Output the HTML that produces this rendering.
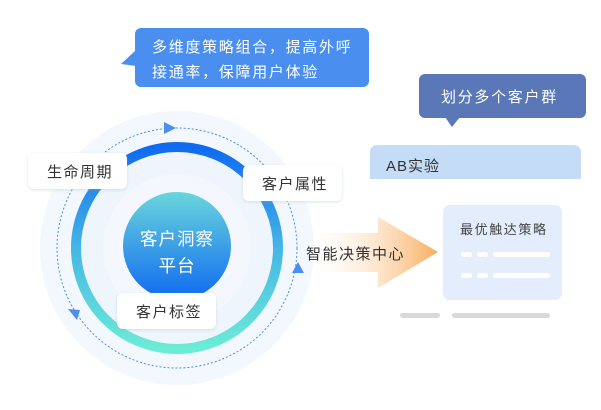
<!DOCTYPE html>
<html><head><meta charset="utf-8"><style>
body{margin:0;width:601px;height:410px;background:#fff;overflow:hidden;font-family:"Liberation Sans","Noto Sans CJK SC",sans-serif}
</style></head><body>
<svg width="601" height="410" viewBox="0 0 601 410" xmlns="http://www.w3.org/2000/svg" style="position:absolute;left:0;top:0">
<defs>
<linearGradient id="ring" x1="0" y1="0" x2="0" y2="1"><stop offset="0" stop-color="#0f6af0"/><stop offset="0.5" stop-color="#45b6e6"/><stop offset="1" stop-color="#6cecd6"/></linearGradient>
<linearGradient id="core" x1="0" y1="0" x2="0" y2="1"><stop offset="0" stop-color="#6ad6dc"/><stop offset="1" stop-color="#0f6af0"/></linearGradient>
<linearGradient id="arr" x1="0" y1="0" x2="1" y2="0"><stop offset="0" stop-color="#fff" stop-opacity="0"/><stop offset="1" stop-color="#f9ad5e"/></linearGradient>
<filter id="sh" x="-20%" y="-20%" width="140%" height="140%"><feDropShadow dx="0" dy="1" stdDeviation="1.5" flood-color="#9ab" flood-opacity="0.35"/></filter>
</defs>
<circle cx="177" cy="248" r="137" fill="#f3f8fe"/>
<circle cx="177" cy="248" r="120" fill="none" stroke="#4a8ff0" stroke-width="1" stroke-dasharray="2 2"/>
<circle cx="177" cy="248" r="97" fill="#eff5fd"/>
<circle cx="177" cy="248" r="101" fill="none" stroke="url(#ring)" stroke-width="10"/>
<circle cx="177" cy="248" r="74" fill="#f4f8fe"/>
<circle cx="177" cy="246" r="54" fill="url(#core)"/>
<text x="140" y="245" font-size="17.5" letter-spacing="1" fill="#fff">客户洞察</text>
<text x="177" y="272" text-anchor="middle" font-size="17.5" letter-spacing="1" fill="#fff">平台</text>
<polygon points="164,122 176,128 164,134" fill="#4a8ff0"/>
<polygon points="292,273 298,262 304,273" fill="#4a8ff0"/>
<polygon points="68,309 80,310 77,320" fill="#4a8ff0"/>
<path d="M300 233 H378 V217 L438 252 L378 288 V272 H300 Z" fill="url(#arr)"/>
<text x="306" y="259" font-size="15" letter-spacing="1.5" fill="#333">智能决策中心</text>
<rect x="28" y="153" width="99" height="36" rx="6" fill="#fff" filter="url(#sh)"/>
<text x="47" y="177" font-size="15" letter-spacing="1.5" fill="#333">生命周期</text>
<rect x="243" y="165" width="99" height="36" rx="6" fill="#fff" filter="url(#sh)"/>
<text x="262" y="189" font-size="15" letter-spacing="1.5" fill="#333">客户属性</text>
<rect x="117" y="293" width="99" height="36" rx="6" fill="#fff" filter="url(#sh)"/>
<text x="136" y="317" font-size="15" letter-spacing="1.5" fill="#333">客户标签</text>
<rect x="135" y="28" width="234" height="59" rx="6" fill="#4a8ff0"/>
<polygon points="136,50 121,64 136,66" fill="#4a8ff0"/>
<text x="152" y="52" font-size="15" letter-spacing="1.7" fill="#fff">多维度策略组合，提高外呼</text>
<text x="152" y="77" font-size="15" letter-spacing="1.7" fill="#fff">接通率，保障用户体验</text>
<rect x="419" y="74" width="167" height="44" rx="6" fill="#5a78b8"/>
<polygon points="445,117 460,117 452,127" fill="#5a78b8"/>
<text x="441" y="102" font-size="15" letter-spacing="1.7" fill="#fff">划分多个客户群</text>
<path d="M370 179 V152 a7 7 0 0 1 7 -7 H574 a7 7 0 0 1 7 7 V179 Z" fill="#c4dcf6"/>
<text x="386" y="171" font-size="15" letter-spacing="1" fill="#333">AB实验</text>
<rect x="443" y="205" width="119" height="95" rx="7" fill="#e3edfb"/>
<text x="460" y="234" font-size="13" letter-spacing="1.6" fill="#444">最优触达策略</text>
<g fill="#fff">
<rect x="461" y="252" width="11" height="5" rx="2.5"/><rect x="477" y="252" width="11" height="5" rx="2.5"/><rect x="493" y="252" width="57" height="5" rx="2.5"/>
<rect x="461" y="273" width="11" height="5" rx="2.5"/><rect x="477" y="273" width="11" height="5" rx="2.5"/><rect x="493" y="273" width="57" height="5" rx="2.5"/>
</g>
<rect x="400" y="313" width="40" height="5" rx="2.5" fill="#d9d9d9"/>
<rect x="452" y="313" width="98" height="5" rx="2.5" fill="#d9d9d9"/>
</svg>
</body></html>
